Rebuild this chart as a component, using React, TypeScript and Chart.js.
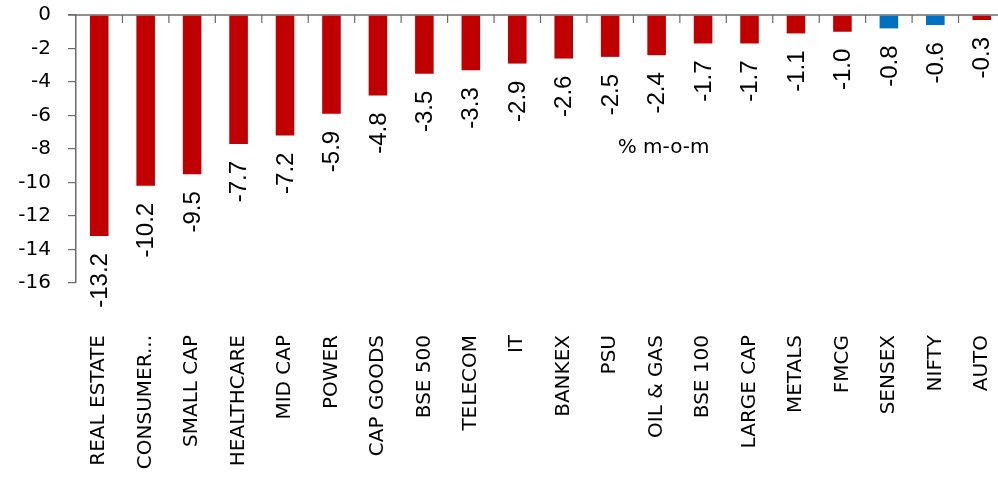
import React, { useEffect, useRef } from "react";
import { Chart, registerables } from "chart.js";

Chart.register(...registerables);

const categories = [
  "REAL ESTATE", "CONSUMER...", "SMALL CAP", "HEALTHCARE", "MID CAP", "POWER",
  "CAP GOODS", "BSE 500", "TELECOM", "IT", "BANKEX", "PSU", "OIL & GAS",
  "BSE 100", "LARGE CAP", "METALS", "FMCG", "SENSEX", "NIFTY", "AUTO",
];
const values = [
  -13.2, -10.2, -9.5, -7.7, -7.2, -5.9, -4.8, -3.5, -3.3, -2.9, -2.6, -2.5, -2.4,
  -1.7, -1.7, -1.1, -1.0, -0.8, -0.6, -0.3,
];
const highlighted = ["SENSEX", "NIFTY"];
const yMin = -16;
const yMax = 0;
const yStep = 2;
const noteText = "% m-o-m";
const noteAt = { category: 12, value: -7.9 };

const RED = "#C00000";
const BLUE = "#0070C0";
const AXIS = "#6b6b6b";
const LABEL_FONT = "'DejaVu Sans', sans-serif";
const DATA_FONT = "'Liberation Sans', Arial, sans-serif";

const overlayPlugin = {
  id: "overlay",
  afterDatasetsDraw(chart: any) {
    const ctx = chart.ctx;
    const x = chart.scales.x;
    const y = chart.scales.y;
    const area = chart.chartArea;
    const y0 = y.getPixelForValue(0);
    ctx.save();
    // zero line
    ctx.strokeStyle = AXIS;
    ctx.lineWidth = 1.5;
    ctx.beginPath();
    ctx.moveTo(area.left - 8, y0);
    ctx.lineTo(area.right, y0);
    ctx.stroke();
    // category tick marks pointing down
    ctx.lineWidth = 1.2;
    for (let i = 0; i < categories.length; i++) {
      const xb = i < categories.length - 1
        ? (x.getPixelForValue(i) + x.getPixelForValue(i + 1)) / 2
        : area.right;
      ctx.beginPath();
      ctx.moveTo(xb, y0);
      ctx.lineTo(xb, y0 + 8);
      ctx.stroke();
    }
    // data labels
    ctx.fillStyle = "#000";
    ctx.font = `24px ${DATA_FONT}`;
    const meta = chart.getDatasetMeta(0);
    meta.data.forEach((bar: any, i: number) => {
      const v = values[i];
      const px = bar.x;
      const py = y.getPixelForValue(v) + 17;
      ctx.save();
      ctx.translate(px, py);
      ctx.rotate(-Math.PI / 2);
      ctx.textAlign = "right";
      ctx.textBaseline = "middle";
      ctx.fillText(v.toFixed(1), 0, 1);
      ctx.restore();
    });
    // note text
    ctx.font = `20px ${LABEL_FONT}`;
    ctx.textAlign = "center";
    ctx.textBaseline = "middle";
    ctx.fillText(noteText, x.getPixelForValue(noteAt.category) + 7, y.getPixelForValue(noteAt.value));
    ctx.restore();
  },
};

export default function App() {
  const ref = useRef<HTMLCanvasElement | null>(null);

  useEffect(() => {
    document.body.style.margin = "0";
    const canvas = ref.current;
    if (!canvas) return;
    const chart = new Chart(canvas, {
      type: "bar",
      data: {
        labels: categories,
        datasets: [
          {
            data: values,
            backgroundColor: categories.map((c) => (highlighted.includes(c) ? BLUE : RED)),
            borderWidth: 0,
            barPercentage: 0.4,
            categoryPercentage: 1,
          },
        ],
      },
      options: {
        responsive: false,
        animation: false,
        devicePixelRatio: 1,
        layout: { padding: { top: 15, left: 0, right: 0, bottom: 0 } },
        plugins: { legend: { display: false }, tooltip: { enabled: false } },
        scales: {
          x: {
            position: "bottom",
            grid: { display: false },
            border: { display: false },
            ticks: {
              autoSkip: false,
              maxRotation: 90,
              minRotation: 90,
              padding: 44,
              color: "#000",
              font: { family: LABEL_FONT, size: 20 },
            },
            afterFit(scale: any) {
              scale.height = 195;
              scale.paddingLeft = 0;
              scale.paddingRight = 0;
            },
          },
          y: {
            min: yMin,
            max: yMax,
            ticks: {
              stepSize: yStep,
              color: "#000",
              padding: 17,
              font: { family: LABEL_FONT, size: 20 },
            },
            grid: {
              drawOnChartArea: false,
              drawTicks: true,
              tickLength: 8,
              color: AXIS,
              lineWidth: 1.2,
            },
            border: { display: true, color: AXIS, width: 1.5 },
            afterFit(scale: any) {
              scale.width = 76;
              scale.paddingTop = 0;
              scale.paddingBottom = 0;
            },
          },
        },
      },
      plugins: [overlayPlugin],
    });
    return () => chart.destroy();
  }, []);

  return (
    <div style={{ width: 998, height: 478, overflow: "hidden", background: "#fff" }}>
      <canvas ref={ref} width={1005} height={478} style={{ display: "block" }} />
    </div>
  );
}
